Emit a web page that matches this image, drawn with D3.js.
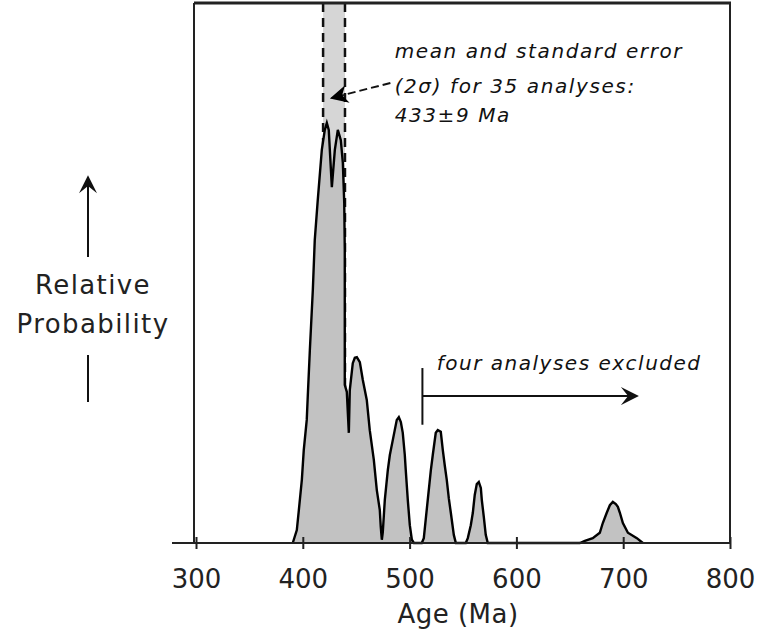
<!DOCTYPE html>
<html><head><meta charset="utf-8">
<script src="https://cdn.jsdelivr.net/npm/d3@7/dist/d3.min.js"></script>
<style>body{margin:0;background:#fff}</style>
</head><body><svg id="c" width="759" height="630"></svg>
<script>
// ---- data ----
const ageTicks = [300, 400, 500, 600, 700, 800];
const curveAge = [390.6,394.4,396.3,399.1,400.9,403.7,404.7,406.6,409.4,411.2,414.0,417.8,420.6,422.5,424.3,427.2,430.0,432.8,435.6,437.5,438.8,439.3,439.3,441.2,443.1,444.0,446.8,448.7,450.6,453.4,456.2,459.9,462.7,466.5,469.3,472.1,473.0,474.0,
  474.9,476.8,479.6,481.5,484.3,486.1,488.0,489.9,491.8,493.6,495.5,496.4,498.3,500.2,502.1,504.0,
  511.4,513.3,517.0,519.9,521.7,524.5,526.4,529.2,531.1,532.9,534.8,536.7,538.6,541.4,543.3,
  552.6,554.5,557.3,559.2,561.0,562.9,564.8,566.7,567.6,569.5,571.3,573.2,
  659.4,664.1,671.5,678.1,680.9,684.6,687.5,690.3,693.1,695.0,696.9,699.7,704.4,712.8,718.4];
const curveProb = [0,2.4,6.1,11.7,17.2,22.8,27.4,35.7,46.9,56.1,63.5,72.8,76.5,77.8,76.5,65.9,72.8,76.5,74.6,70.4,63.0,54.3,29.3,28.0,20.4,28.3,33.3,34.3,34.4,33.5,30.2,26.5,20.9,15.4,9.8,6.1,3.0,0.6,
  2.0,8.0,13.5,16.3,19.1,20.9,22.8,23.3,22.4,20.4,16.3,13.5,8.0,3.3,0.6,0,
  0,0.9,8.0,13.5,16.3,20.4,20.9,20.6,17.2,14.4,11.7,8.3,5.6,1.5,0,
  0,0.9,3.3,5.6,8.9,10.9,11.3,10.2,8.0,4.8,1.5,0,
  0,0.4,0.9,1.9,3.7,5.6,7.0,7.6,7.2,6.7,5.6,3.7,1.9,0.9,0];
const meanBand = [419, 439.5];
const meanLabel = ["mean and standard error", "(2σ) for 35 analyses:", "433±9 Ma"];
const excludedLabel = "four analyses excluded";
const excludedRange = [512, 713];
const xTitle = "Age (Ma)";
const yTitle = ["Relative", "Probability"];

// ---- chart ----
const svg = d3.select("#c");
const x = d3.scaleLinear().domain([300, 800]).range([196, 730]);
const y = d3.scaleLinear().domain([0, 100]).range([543, 3]);
const pts = curveAge.map((a, i) => [a, curveProb[i]]);

const defs = svg.append("defs");
defs.append("marker").attr("id", "tri").attr("viewBox", "0 0 10 10").attr("refX", 9).attr("refY", 5)
  .attr("markerUnits", "userSpaceOnUse").attr("markerWidth", 22).attr("markerHeight", 18).attr("orient", "auto")
  .append("path").attr("d", "M0,0 L10,5 L0,10 L3,5 Z").attr("fill", "#000");
defs.append("marker").attr("id", "chev").attr("viewBox", "0 0 10 10").attr("refX", 9).attr("refY", 5)
  .attr("markerUnits", "userSpaceOnUse").attr("markerWidth", 22).attr("markerHeight", 18).attr("orient", "auto")
  .append("path").attr("d", "M0,0 L10,5 L0,10 L4,5 Z").attr("fill", "#111");

// mean band
svg.append("rect").attr("x", x(meanBand[0])).attr("y", y(100)).attr("width", x(meanBand[1]) - x(meanBand[0]))
  .attr("height", y(0) - y(100)).attr("fill", "#d6d6d6");
svg.selectAll(".bandline").data(meanBand).join("line")
  .attr("x1", d => x(d)).attr("x2", d => x(d)).attr("y1", y(100)).attr("y2", y(0))
  .attr("stroke", "#111").attr("stroke-width", 2.5).attr("stroke-dasharray", "9,6");

// probability curve
const area = d3.area().x(d => x(d[0])).y0(y(0)).y1(d => y(d[1]));
const line = d3.line().x(d => x(d[0])).y(d => y(d[1]));
svg.append("path").datum(pts).attr("d", area).attr("fill", "#c2c2c2");
svg.append("path").datum(pts).attr("d", line).attr("fill", "none").attr("stroke", "#000")
  .attr("stroke-width", 2.4).attr("stroke-linejoin", "miter");

// frame
const fr = svg.append("g").attr("stroke", "#222").attr("fill", "none");
fr.append("line").attr("x1", x(300) - 2).attr("x2", x(800) + 1).attr("y1", y(100)).attr("y2", y(100)).attr("stroke-width", 3);
fr.append("line").attr("x1", x(300) - 2).attr("x2", x(300) - 2).attr("y1", y(100)).attr("y2", y(0)).attr("stroke-width", 2);
fr.append("line").attr("x1", x(800)).attr("x2", x(800)).attr("y1", y(100)).attr("y2", y(0)).attr("stroke-width", 2);

// x axis
const xAxis = d3.axisBottom(x).tickValues(ageTicks).tickSize(6).tickPadding(10).tickFormat(d3.format("d"));
const ax = svg.append("g").attr("transform", `translate(0,${y(0)})`).call(xAxis);
ax.select(".domain").remove();
ax.append("line").attr("x1", x(300) - 24).attr("x2", x(800) + 1).attr("y1", 0).attr("y2", 0)
  .attr("stroke", "#222").attr("stroke-width", 2);
ax.selectAll(".tick line").attr("y1", -6).attr("y2", 6).attr("stroke", "#222").attr("stroke-width", 2);
ax.selectAll(".tick text").attr("font-family", "DejaVu Sans").attr("font-size", 26).attr("fill", "#222")
  .attr("dy", null).attr("y", 45);
svg.append("text").attr("x", 458).attr("y", 623).attr("text-anchor", "middle")
  .attr("font-family", "DejaVu Sans").attr("font-size", 26).attr("letter-spacing", 0.5).attr("fill", "#222").text(xTitle);

// y title with arrows
const yg = svg.append("g").attr("font-family", "DejaVu Sans").attr("font-size", 26).attr("fill", "#222")
  .attr("text-anchor", "middle").attr("letter-spacing", 1.4);
yg.selectAll("text").data(yTitle).join("text").attr("x", 93).attr("y", (d, i) => 294 + i * 39).text(d => d);
svg.append("line").attr("x1", 88).attr("x2", 88).attr("y1", 257).attr("y2", 177).attr("stroke", "#111")
  .attr("stroke-width", 2).attr("marker-end", "url(#chev)");
svg.append("line").attr("x1", 88).attr("x2", 88).attr("y1", 355).attr("y2", 402).attr("stroke", "#111").attr("stroke-width", 2);

// mean annotation
const ann = svg.append("g").attr("font-family", "DejaVu Sans").attr("font-style", "italic")
  .attr("font-size", 20).attr("letter-spacing", 1.6).attr("fill", "#111");
ann.selectAll("text").data(meanLabel).join("text").attr("x", x(486)).attr("y", (d, i) => [58, 93, 122][i]).text(d => d);
svg.append("line").attr("x1", x(482)).attr("y1", y(85.2)).attr("x2", x(427)).attr("y2", y(82.4))
  .attr("stroke", "#111").attr("stroke-width", 2).attr("stroke-dasharray", "8,4").attr("marker-end", "url(#tri)");

// excluded annotation
svg.append("text").attr("x", x(525.5)).attr("y", y(32)).attr("font-family", "DejaVu Sans").attr("font-style", "italic")
  .attr("font-size", 20).attr("letter-spacing", 1.5).attr("fill", "#111").text(excludedLabel);
svg.append("line").attr("x1", x(excludedRange[0])).attr("x2", x(excludedRange[0])).attr("y1", y(32.4)).attr("y2", y(21.9))
  .attr("stroke", "#111").attr("stroke-width", 2);
svg.append("line").attr("x1", x(excludedRange[0])).attr("x2", x(excludedRange[1])).attr("y1", y(27.2)).attr("y2", y(27.2))
  .attr("stroke", "#111").attr("stroke-width", 2).attr("marker-end", "url(#chev)");
</script></body></html>
